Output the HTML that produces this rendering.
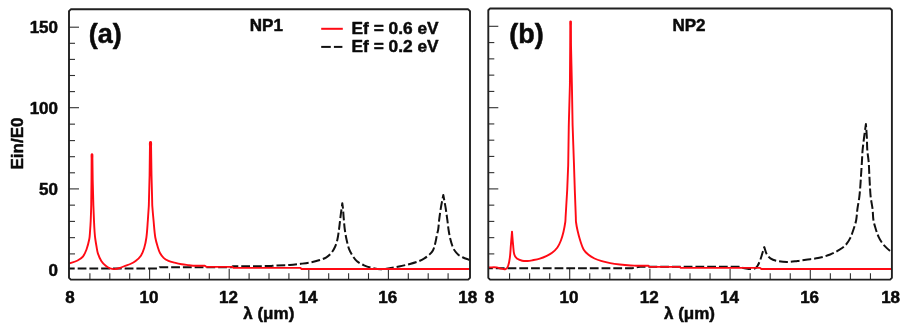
<!DOCTYPE html>
<html><head><meta charset="utf-8"><title>Field enhancement</title>
<style>
html,body{margin:0;padding:0;background:#fff;}
body{width:910px;height:332px;overflow:hidden;position:relative;font-family:"Liberation Sans",sans-serif;}
svg text{font-family:"Liberation Sans",sans-serif;}
</style></head><body>
<svg width="910" height="332" viewBox="0 0 910 332" style="position:absolute;left:0;top:0;filter:blur(0.45px)">
<rect x="0" y="0" width="910" height="332" fill="#fff"/>
<line x1="69.0" y1="253.90" x2="75.0" y2="253.90" stroke="#303030" stroke-width="1.1"/>
<line x1="69.0" y1="237.65" x2="75.0" y2="237.65" stroke="#303030" stroke-width="1.1"/>
<line x1="69.0" y1="221.40" x2="75.0" y2="221.40" stroke="#303030" stroke-width="1.1"/>
<line x1="69.0" y1="205.15" x2="75.0" y2="205.15" stroke="#303030" stroke-width="1.1"/>
<line x1="69.0" y1="188.90" x2="79.0" y2="188.90" stroke="#303030" stroke-width="1.1"/>
<line x1="69.0" y1="172.80" x2="75.0" y2="172.80" stroke="#303030" stroke-width="1.1"/>
<line x1="69.0" y1="156.70" x2="75.0" y2="156.70" stroke="#303030" stroke-width="1.1"/>
<line x1="69.0" y1="140.60" x2="75.0" y2="140.60" stroke="#303030" stroke-width="1.1"/>
<line x1="69.0" y1="124.15" x2="75.0" y2="124.15" stroke="#303030" stroke-width="1.1"/>
<line x1="69.0" y1="107.70" x2="79.0" y2="107.70" stroke="#303030" stroke-width="1.1"/>
<line x1="69.0" y1="91.60" x2="75.0" y2="91.60" stroke="#303030" stroke-width="1.1"/>
<line x1="69.0" y1="75.50" x2="75.0" y2="75.50" stroke="#303030" stroke-width="1.1"/>
<line x1="69.0" y1="59.40" x2="75.0" y2="59.40" stroke="#303030" stroke-width="1.1"/>
<line x1="69.0" y1="43.30" x2="75.0" y2="43.30" stroke="#303030" stroke-width="1.1"/>
<line x1="69.0" y1="27.20" x2="79.0" y2="27.20" stroke="#303030" stroke-width="1.1"/>
<line x1="89.90" y1="279.6" x2="89.90" y2="273.20" stroke="#303030" stroke-width="1.1"/>
<line x1="109.80" y1="279.6" x2="109.80" y2="273.20" stroke="#303030" stroke-width="1.1"/>
<line x1="129.70" y1="279.6" x2="129.70" y2="273.20" stroke="#303030" stroke-width="1.1"/>
<line x1="149.60" y1="279.6" x2="149.60" y2="268.80" stroke="#303030" stroke-width="1.1"/>
<line x1="169.50" y1="279.6" x2="169.50" y2="273.20" stroke="#303030" stroke-width="1.1"/>
<line x1="189.40" y1="279.6" x2="189.40" y2="273.20" stroke="#303030" stroke-width="1.1"/>
<line x1="209.30" y1="279.6" x2="209.30" y2="273.20" stroke="#303030" stroke-width="1.1"/>
<line x1="229.20" y1="279.6" x2="229.20" y2="268.80" stroke="#303030" stroke-width="1.1"/>
<line x1="249.10" y1="279.6" x2="249.10" y2="273.20" stroke="#303030" stroke-width="1.1"/>
<line x1="269.00" y1="279.6" x2="269.00" y2="273.20" stroke="#303030" stroke-width="1.1"/>
<line x1="288.90" y1="279.6" x2="288.90" y2="273.20" stroke="#303030" stroke-width="1.1"/>
<line x1="308.80" y1="279.6" x2="308.80" y2="268.80" stroke="#303030" stroke-width="1.1"/>
<line x1="328.70" y1="279.6" x2="328.70" y2="273.20" stroke="#303030" stroke-width="1.1"/>
<line x1="348.60" y1="279.6" x2="348.60" y2="273.20" stroke="#303030" stroke-width="1.1"/>
<line x1="368.50" y1="279.6" x2="368.50" y2="273.20" stroke="#303030" stroke-width="1.1"/>
<line x1="388.40" y1="279.6" x2="388.40" y2="268.80" stroke="#303030" stroke-width="1.1"/>
<line x1="408.30" y1="279.6" x2="408.30" y2="273.20" stroke="#303030" stroke-width="1.1"/>
<line x1="428.20" y1="279.6" x2="428.20" y2="273.20" stroke="#303030" stroke-width="1.1"/>
<line x1="448.10" y1="279.6" x2="448.10" y2="273.20" stroke="#303030" stroke-width="1.1"/>
<line x1="488.3" y1="253.90" x2="494.3" y2="253.90" stroke="#303030" stroke-width="1.1"/>
<line x1="488.3" y1="237.65" x2="494.3" y2="237.65" stroke="#303030" stroke-width="1.1"/>
<line x1="488.3" y1="221.40" x2="494.3" y2="221.40" stroke="#303030" stroke-width="1.1"/>
<line x1="488.3" y1="205.15" x2="494.3" y2="205.15" stroke="#303030" stroke-width="1.1"/>
<line x1="488.3" y1="188.90" x2="498.3" y2="188.90" stroke="#303030" stroke-width="1.1"/>
<line x1="488.3" y1="172.66" x2="494.3" y2="172.66" stroke="#303030" stroke-width="1.1"/>
<line x1="488.3" y1="156.42" x2="494.3" y2="156.42" stroke="#303030" stroke-width="1.1"/>
<line x1="488.3" y1="140.18" x2="494.3" y2="140.18" stroke="#303030" stroke-width="1.1"/>
<line x1="488.3" y1="123.94" x2="494.3" y2="123.94" stroke="#303030" stroke-width="1.1"/>
<line x1="488.3" y1="107.70" x2="498.3" y2="107.70" stroke="#303030" stroke-width="1.1"/>
<line x1="488.3" y1="91.42" x2="494.3" y2="91.42" stroke="#303030" stroke-width="1.1"/>
<line x1="488.3" y1="75.14" x2="494.3" y2="75.14" stroke="#303030" stroke-width="1.1"/>
<line x1="488.3" y1="58.86" x2="494.3" y2="58.86" stroke="#303030" stroke-width="1.1"/>
<line x1="488.3" y1="42.58" x2="494.3" y2="42.58" stroke="#303030" stroke-width="1.1"/>
<line x1="488.3" y1="26.30" x2="498.3" y2="26.30" stroke="#303030" stroke-width="1.1"/>
<line x1="509.55" y1="279.6" x2="509.55" y2="273.20" stroke="#303030" stroke-width="1.1"/>
<line x1="529.60" y1="279.6" x2="529.60" y2="273.20" stroke="#303030" stroke-width="1.1"/>
<line x1="549.65" y1="279.6" x2="549.65" y2="273.20" stroke="#303030" stroke-width="1.1"/>
<line x1="569.70" y1="279.6" x2="569.70" y2="268.80" stroke="#303030" stroke-width="1.1"/>
<line x1="589.75" y1="279.6" x2="589.75" y2="273.20" stroke="#303030" stroke-width="1.1"/>
<line x1="609.80" y1="279.6" x2="609.80" y2="273.20" stroke="#303030" stroke-width="1.1"/>
<line x1="629.85" y1="279.6" x2="629.85" y2="273.20" stroke="#303030" stroke-width="1.1"/>
<line x1="649.90" y1="279.6" x2="649.90" y2="268.80" stroke="#303030" stroke-width="1.1"/>
<line x1="669.95" y1="279.6" x2="669.95" y2="273.20" stroke="#303030" stroke-width="1.1"/>
<line x1="690.00" y1="279.6" x2="690.00" y2="273.20" stroke="#303030" stroke-width="1.1"/>
<line x1="710.05" y1="279.6" x2="710.05" y2="273.20" stroke="#303030" stroke-width="1.1"/>
<line x1="730.10" y1="279.6" x2="730.10" y2="268.80" stroke="#303030" stroke-width="1.1"/>
<line x1="750.15" y1="279.6" x2="750.15" y2="273.20" stroke="#303030" stroke-width="1.1"/>
<line x1="770.20" y1="279.6" x2="770.20" y2="273.20" stroke="#303030" stroke-width="1.1"/>
<line x1="790.25" y1="279.6" x2="790.25" y2="273.20" stroke="#303030" stroke-width="1.1"/>
<line x1="810.30" y1="279.6" x2="810.30" y2="268.80" stroke="#303030" stroke-width="1.1"/>
<line x1="830.35" y1="279.6" x2="830.35" y2="273.20" stroke="#303030" stroke-width="1.1"/>
<line x1="850.40" y1="279.6" x2="850.40" y2="273.20" stroke="#303030" stroke-width="1.1"/>
<line x1="870.45" y1="279.6" x2="870.45" y2="273.20" stroke="#303030" stroke-width="1.1"/>
<path d="M69.00,268.00 C70.50,268.00 72.00,268.00 73.50,268.00 C100.30,268.00 127.10,268.00 153.90,268.00 C155.40,268.00 156.90,268.00 158.40,268.00 C158.80,267.60 159.20,267.20 159.60,266.80 C161.10,266.80 162.60,266.80 164.10,266.80 C185.07,266.80 206.03,266.80 227.00,266.80 C228.50,266.80 230.00,266.80 231.50,266.80 C231.93,266.43 232.37,266.07 232.80,265.70 C238.53,265.70 244.27,265.73 250.00,265.70 C256.87,265.66 263.74,265.67 270.60,265.50 C271.81,265.47 272.99,265.16 274.20,265.10 C279.43,264.83 284.67,264.85 289.90,264.50 C293.55,264.25 297.17,263.76 300.80,263.30 C304.04,262.89 307.29,262.52 310.50,261.90 C313.33,261.35 316.15,260.68 318.90,259.80 C321.46,258.98 324.09,258.18 326.40,256.80 C328.35,255.64 330.07,254.06 331.50,252.30 C333.04,250.41 334.21,248.23 335.20,246.00 C336.19,243.76 336.87,241.39 337.40,239.00 C338.14,235.71 338.54,232.34 339.00,229.00 C339.58,224.78 339.98,220.53 340.50,216.30 C340.84,213.53 341.23,210.77 341.60,208.00 C341.83,206.23 342.07,204.47 342.30,202.70 C342.53,204.47 342.83,206.23 343.00,208.00 C343.26,210.76 343.36,213.54 343.60,216.30 C343.96,220.54 344.25,224.78 344.80,229.00 C345.25,232.46 345.85,235.90 346.60,239.30 C347.29,242.44 347.97,245.60 349.10,248.60 C349.98,250.93 351.25,253.11 352.60,255.20 C353.89,257.19 355.18,259.27 357.00,260.80 C359.06,262.53 361.56,263.68 364.00,264.80 C366.24,265.83 368.60,266.63 371.00,267.20 C374.19,267.96 377.43,268.67 380.70,268.80 C383.18,268.90 385.65,268.29 388.10,267.90 C392.15,267.26 396.18,266.51 400.20,265.70 C403.45,265.04 406.69,264.35 409.90,263.50 C412.76,262.74 415.64,261.97 418.40,260.90 C420.49,260.09 422.50,259.07 424.40,257.90 C426.14,256.83 427.80,255.59 429.30,254.20 C430.65,252.94 432.06,251.64 432.90,250.00 C434.10,247.66 434.65,245.04 435.30,242.50 C436.02,239.70 436.39,236.82 437.00,234.00 C437.36,232.32 437.95,230.70 438.20,229.00 C438.65,225.99 438.73,222.93 439.10,219.90 C439.63,215.66 440.20,211.42 440.90,207.20 C441.60,202.95 442.50,198.73 443.30,194.50 C444.07,198.73 444.91,202.95 445.60,207.20 C446.28,211.42 446.83,215.66 447.40,219.90 C447.83,223.10 448.11,226.31 448.60,229.50 C449.04,232.35 449.53,235.19 450.20,238.00 C450.80,240.53 451.50,243.05 452.40,245.50 C452.97,247.07 453.66,248.62 454.60,250.00 C455.65,251.54 456.86,253.01 458.30,254.20 C459.73,255.38 461.43,256.20 463.10,257.00 C464.84,257.84 466.69,258.42 468.50,259.10 C468.99,259.29 469.50,259.43 470.00,259.60" fill="none" stroke="#111" stroke-width="2" stroke-dasharray="8.8 2.95" stroke-dashoffset="3.1" stroke-linejoin="round" transform="translate(0,0.5)"/>
<path d="M69.00,263.60 C71.87,262.57 74.88,261.87 77.60,260.50 C79.56,259.51 81.52,258.31 82.90,256.60 C84.57,254.54 85.59,251.99 86.50,249.50 C87.74,246.10 88.59,242.55 89.30,239.00 C89.76,236.70 89.82,234.34 90.00,232.00 C90.28,228.34 90.53,224.67 90.70,221.00 C90.93,216.00 91.06,211.00 91.20,206.00 C91.24,204.50 91.23,203.00 91.25,201.50 C91.32,195.83 91.38,190.17 91.45,184.50 C91.47,183.00 91.49,181.50 91.50,180.00 C91.51,178.50 91.52,177.00 91.53,175.50 C91.56,169.93 91.59,164.37 91.62,158.80 C91.63,157.30 91.41,155.78 91.65,154.30 C91.69,154.07 92.31,154.07 92.35,154.30 C92.60,155.78 92.39,157.30 92.41,158.80 C92.49,164.37 92.56,169.93 92.64,175.50 C92.66,177.00 92.67,178.50 92.70,180.00 C92.73,181.50 92.78,183.00 92.82,184.50 C92.97,190.17 93.13,195.83 93.28,201.50 C93.32,203.00 93.34,204.50 93.40,206.00 C93.58,211.00 93.77,216.00 94.00,221.00 C94.17,224.67 94.34,228.34 94.60,232.00 C94.77,234.34 94.99,236.68 95.30,239.00 C95.66,241.68 96.13,244.34 96.60,247.00 C96.96,249.04 97.14,251.14 97.80,253.10 C98.72,255.83 99.78,258.55 101.30,261.00 C102.45,262.84 104.04,264.40 105.70,265.80 C107.00,266.90 108.50,267.80 110.10,268.40 C111.49,268.92 113.02,269.16 114.50,269.10 C116.30,269.03 118.08,268.54 119.80,268.00 C121.63,267.43 123.31,266.48 125.10,265.80 C126.81,265.15 128.63,264.76 130.30,264.00 C132.15,263.16 134.00,262.25 135.60,261.00 C137.57,259.46 139.52,257.78 140.90,255.70 C142.44,253.37 143.39,250.67 144.20,248.00 C145.23,244.58 145.93,241.04 146.40,237.50 C147.13,232.03 147.38,226.50 147.80,221.00 C148.18,216.00 148.51,211.00 148.80,206.00 C148.89,204.50 148.88,203.00 148.92,201.50 C149.11,194.17 149.29,186.83 149.48,179.50 C149.52,178.00 149.57,176.50 149.60,175.00 C149.63,173.50 149.64,172.00 149.65,170.50 C149.75,162.53 149.85,154.57 149.95,146.60 C149.96,145.10 149.66,143.56 150.00,142.10 C150.08,141.78 150.92,141.78 151.00,142.10 C151.35,143.56 151.05,145.10 151.07,146.60 C151.19,154.57 151.31,162.53 151.43,170.50 C151.45,172.00 151.47,173.50 151.50,175.00 C151.53,176.50 151.58,178.00 151.62,179.50 C151.81,186.83 151.99,194.17 152.18,201.50 C152.22,203.00 152.19,204.50 152.30,206.00 C152.66,211.01 153.12,216.00 153.60,221.00 C154.12,226.50 154.39,232.05 155.30,237.50 C155.90,241.07 157.05,244.53 158.10,248.00 C158.62,249.71 159.13,251.44 160.00,253.00 C160.98,254.77 162.12,256.52 163.60,257.90 C165.00,259.20 166.75,260.13 168.50,260.90 C170.41,261.74 172.48,262.18 174.50,262.70 C176.91,263.32 179.35,263.88 181.80,264.30 C184.18,264.71 186.60,264.90 189.00,265.20 C190.33,265.37 191.67,265.53 193.00,265.70 C196.93,265.70 200.87,265.70 204.80,265.70 C205.33,266.10 205.87,266.50 206.40,266.90 C207.90,266.90 209.40,266.90 210.90,266.90 C216.57,266.90 222.23,266.90 227.90,266.90 C229.40,266.90 230.90,266.90 232.40,266.90 C232.80,267.23 233.20,267.57 233.60,267.90 C235.10,267.90 236.60,267.90 238.10,267.90 C257.37,267.90 276.63,267.90 295.90,267.90 C297.40,267.90 298.90,267.90 300.40,267.90 C300.80,268.27 301.20,268.63 301.60,269.00 C303.10,269.00 304.60,269.00 306.10,269.00 C359.23,269.00 412.37,269.00 465.50,269.00 C467.00,269.00 468.50,269.00 470.00,269.00" fill="none" stroke="#ff0a14" stroke-width="1.9" stroke-linejoin="round"/>
<path d="M489.00,267.70 C490.50,267.70 492.00,267.70 493.50,267.70 C538.17,267.70 582.83,267.70 627.50,267.70 C629.00,267.70 630.50,267.70 632.00,267.70 C634.67,267.23 637.33,266.77 640.00,266.30 C641.50,266.30 643.00,266.30 644.50,266.30 C674.50,266.30 704.50,266.30 734.50,266.30 C736.00,266.30 737.50,266.30 739.00,266.30 C741.33,266.87 743.64,267.57 746.00,268.00 C747.81,268.33 749.66,268.60 751.50,268.60 C752.68,268.60 753.97,268.58 755.00,268.00 C756.11,267.38 756.93,266.28 757.60,265.20 C758.72,263.38 759.54,261.39 760.30,259.40 C761.21,256.98 761.83,254.47 762.60,252.00 C763.16,250.20 763.73,248.40 764.30,246.60 C765.10,248.93 765.53,251.43 766.70,253.60 C767.60,255.26 768.84,256.83 770.40,257.90 C772.17,259.12 774.29,259.85 776.40,260.30 C779.84,261.03 783.38,261.38 786.90,261.40 C790.45,261.42 793.97,260.81 797.50,260.40 C800.34,260.07 803.16,259.59 806.00,259.20 C810.03,258.65 814.12,258.45 818.10,257.60 C822.21,256.72 826.27,255.51 830.20,254.00 C833.16,252.86 835.98,251.34 838.70,249.70 C841.03,248.30 843.43,246.87 845.30,244.90 C847.32,242.78 848.88,240.22 850.20,237.60 C851.74,234.55 852.72,231.24 853.80,228.00 C854.73,225.21 855.66,222.39 856.20,219.50 C856.86,215.94 856.91,212.29 857.40,208.70 C857.95,204.65 858.78,200.65 859.30,196.60 C859.75,193.08 860.02,189.54 860.30,186.00 C860.62,181.90 860.83,177.80 861.10,173.70 C861.36,169.67 861.65,165.63 861.90,161.60 C862.15,157.57 862.24,153.52 862.60,149.50 C863.01,144.99 863.63,140.50 864.20,136.00 C864.73,131.86 865.33,127.73 865.90,123.60 C866.20,127.73 866.58,131.86 866.80,136.00 C867.04,140.50 866.97,145.01 867.30,149.50 C867.60,153.55 868.37,157.55 868.70,161.60 C869.03,165.62 869.09,169.67 869.30,173.70 C869.53,178.13 869.73,182.57 870.00,187.00 C870.20,190.20 870.32,193.41 870.70,196.60 C871.19,200.65 872.12,204.65 872.60,208.70 C873.02,212.29 872.85,215.93 873.40,219.50 C873.85,222.39 874.74,225.20 875.60,228.00 C876.47,230.84 877.37,233.69 878.60,236.40 C879.58,238.55 880.80,240.60 882.20,242.50 C883.64,244.45 885.37,246.19 887.10,247.90 C888.41,249.20 889.90,250.30 891.30,251.50" fill="none" stroke="#111" stroke-width="2" stroke-dasharray="8.8 2.95" stroke-dashoffset="4.95" stroke-linejoin="round" transform="translate(0,0.5)"/>
<path d="M488.80,267.40 C491.43,267.40 494.08,267.14 496.70,267.40 C498.21,267.55 499.61,268.31 501.10,268.60 C502.55,268.88 504.12,269.61 505.50,269.10 C506.76,268.63 507.63,267.26 508.10,266.00 C509.14,263.19 509.51,260.17 509.90,257.20 C510.44,253.12 510.56,249.00 510.90,244.90 C511.26,240.50 511.63,236.10 512.00,231.70 C512.37,236.10 512.66,240.51 513.10,244.90 C513.42,248.11 513.44,251.39 514.30,254.50 C514.73,256.06 515.63,257.60 516.90,258.60 C518.39,259.77 520.35,260.28 522.20,260.70 C523.93,261.09 525.73,261.08 527.50,261.00 C529.25,260.92 530.98,260.54 532.70,260.20 C535.08,259.74 537.48,259.32 539.80,258.60 C542.20,257.85 544.53,256.87 546.80,255.80 C548.64,254.93 550.50,254.05 552.10,252.80 C554.07,251.26 555.95,249.53 557.40,247.50 C558.92,245.38 559.96,242.93 560.90,240.50 C562.00,237.65 562.79,234.68 563.50,231.70 C564.26,228.50 564.83,225.25 565.30,222.00 C565.52,220.52 565.48,219.01 565.57,217.51 C566.02,209.84 566.48,202.16 566.93,194.49 C567.02,192.99 567.13,191.50 567.20,190.00 C567.27,188.50 567.32,187.00 567.38,185.50 C567.59,180.17 567.81,174.83 568.02,169.50 C568.08,168.00 568.16,166.50 568.20,165.00 C568.24,163.50 568.24,162.00 568.27,160.50 C568.42,150.17 568.58,139.83 568.73,129.50 C568.76,128.00 568.77,126.50 568.80,125.00 C568.83,123.50 568.88,122.00 568.92,120.50 C569.21,110.17 569.49,99.83 569.78,89.50 C569.82,88.00 569.87,86.50 569.90,85.00 C569.93,83.50 569.92,82.00 569.93,80.50 C570.01,70.17 570.09,59.83 570.17,49.50 C570.18,48.00 570.19,46.50 570.20,45.00 C570.21,43.50 570.21,42.00 570.22,40.50 C570.24,35.67 570.26,30.83 570.28,26.00 C570.29,24.50 570.10,22.99 570.30,21.50 C570.33,21.30 570.87,21.30 570.90,21.50 C571.10,22.99 570.91,24.50 570.92,26.00 C570.94,30.83 570.96,35.67 570.98,40.50 C570.99,42.00 570.98,43.50 571.00,45.00 C571.02,46.50 571.07,48.00 571.10,49.50 C571.33,59.83 571.57,70.17 571.80,80.50 C571.83,82.00 571.87,83.50 571.90,85.00 C571.93,86.50 571.95,88.00 571.98,89.50 C572.16,99.83 572.34,110.17 572.52,120.50 C572.55,122.00 572.56,123.50 572.60,125.00 C572.64,126.50 572.70,128.00 572.76,129.50 C573.12,139.83 573.48,150.17 573.84,160.50 C573.90,162.00 573.95,163.50 574.00,165.00 C574.05,166.50 574.10,168.00 574.14,169.50 C574.31,174.83 574.49,180.17 574.66,185.50 C574.70,187.00 574.75,188.50 574.80,190.00 C574.85,191.50 574.91,193.00 574.97,194.50 C575.26,202.17 575.54,209.83 575.83,217.50 C575.89,219.00 575.80,220.51 576.00,222.00 C576.39,224.96 576.94,227.89 577.60,230.80 C578.34,234.06 579.17,237.31 580.20,240.50 C581.17,243.52 582.01,246.65 583.60,249.40 C584.82,251.50 586.63,253.24 588.50,254.80 C590.30,256.31 592.38,257.49 594.50,258.50 C596.83,259.61 599.32,260.37 601.80,261.10 C604.56,261.91 607.37,262.57 610.20,263.10 C613.41,263.70 616.66,264.12 619.90,264.50 C623.52,264.92 627.16,265.23 630.80,265.50 C632.53,265.63 634.27,265.63 636.00,265.70 C640.13,265.70 644.27,265.70 648.40,265.70 C648.80,266.10 649.20,266.50 649.60,266.90 C651.10,266.90 652.60,266.90 654.10,266.90 C661.17,266.90 668.23,266.90 675.30,266.90 C676.80,266.90 678.30,266.90 679.80,266.90 C680.20,267.23 680.60,267.57 681.00,267.90 C682.50,267.90 684.00,267.90 685.50,267.90 C708.87,267.90 732.23,267.90 755.60,267.90 C757.10,267.90 758.60,267.90 760.10,267.90 C760.53,268.27 760.97,268.63 761.40,269.00 C762.90,269.00 764.40,269.00 765.90,269.00 C806.10,269.00 846.30,269.00 886.50,269.00 C888.00,269.00 889.50,269.00 891.00,269.00" fill="none" stroke="#ff0a14" stroke-width="1.9" stroke-linejoin="round"/>
<path d="M70.8,9.3 L468.2,9.3 L470.0,11.100000000000001 L470.0,277.8 L468.2,279.6 L70.8,279.6 L69.0,277.8 L69.0,11.100000000000001 Z" fill="none" stroke="#202020" stroke-width="1.9" stroke-linejoin="round"/>
<path d="M490.1,8.45 L890.1,8.45 L891.9,10.25 L891.9,277.8 L890.1,279.6 L490.1,279.6 L488.3,277.8 L488.3,10.25 Z" fill="none" stroke="#202020" stroke-width="1.9" stroke-linejoin="round"/>
<line x1="321.2" y1="28.8" x2="342.8" y2="28.8" stroke="#ff0a14" stroke-width="2"/>
<line x1="321.2" y1="46.9" x2="330.8" y2="46.9" stroke="#111" stroke-width="2"/>
<line x1="333.9" y1="46.9" x2="342.4" y2="46.9" stroke="#111" stroke-width="2"/>
<text x="58.0" y="276.1" font-size="17" text-anchor="end" font-family="Liberation Sans, sans-serif" font-weight="bold" fill="#0a0a0a" stroke="#0a0a0a" stroke-width="0.5" stroke-linejoin="round" >0</text>
<text x="58.0" y="194.8" font-size="17" text-anchor="end" font-family="Liberation Sans, sans-serif" font-weight="bold" fill="#0a0a0a" stroke="#0a0a0a" stroke-width="0.5" stroke-linejoin="round" >50</text>
<text x="58.0" y="113.6" font-size="17" text-anchor="end" font-family="Liberation Sans, sans-serif" font-weight="bold" fill="#0a0a0a" stroke="#0a0a0a" stroke-width="0.5" stroke-linejoin="round" >100</text>
<text x="58.0" y="33.1" font-size="17" text-anchor="end" font-family="Liberation Sans, sans-serif" font-weight="bold" fill="#0a0a0a" stroke="#0a0a0a" stroke-width="0.5" stroke-linejoin="round" >150</text>
<text x="70.0" y="302.6" font-size="17" text-anchor="middle" font-family="Liberation Sans, sans-serif" font-weight="bold" fill="#0a0a0a" stroke="#0a0a0a" stroke-width="0.5" stroke-linejoin="round" >8</text>
<text x="489.5" y="302.6" font-size="17" text-anchor="middle" font-family="Liberation Sans, sans-serif" font-weight="bold" fill="#0a0a0a" stroke="#0a0a0a" stroke-width="0.5" stroke-linejoin="round" >8</text>
<text x="148.9" y="302.6" font-size="17" text-anchor="middle" font-family="Liberation Sans, sans-serif" font-weight="bold" fill="#0a0a0a" stroke="#0a0a0a" stroke-width="0.5" stroke-linejoin="round" >10</text>
<text x="569.0" y="302.6" font-size="17" text-anchor="middle" font-family="Liberation Sans, sans-serif" font-weight="bold" fill="#0a0a0a" stroke="#0a0a0a" stroke-width="0.5" stroke-linejoin="round" >10</text>
<text x="228.5" y="302.6" font-size="17" text-anchor="middle" font-family="Liberation Sans, sans-serif" font-weight="bold" fill="#0a0a0a" stroke="#0a0a0a" stroke-width="0.5" stroke-linejoin="round" >12</text>
<text x="649.2" y="302.6" font-size="17" text-anchor="middle" font-family="Liberation Sans, sans-serif" font-weight="bold" fill="#0a0a0a" stroke="#0a0a0a" stroke-width="0.5" stroke-linejoin="round" >12</text>
<text x="308.1" y="302.6" font-size="17" text-anchor="middle" font-family="Liberation Sans, sans-serif" font-weight="bold" fill="#0a0a0a" stroke="#0a0a0a" stroke-width="0.5" stroke-linejoin="round" >14</text>
<text x="729.4" y="302.6" font-size="17" text-anchor="middle" font-family="Liberation Sans, sans-serif" font-weight="bold" fill="#0a0a0a" stroke="#0a0a0a" stroke-width="0.5" stroke-linejoin="round" >14</text>
<text x="387.7" y="302.6" font-size="17" text-anchor="middle" font-family="Liberation Sans, sans-serif" font-weight="bold" fill="#0a0a0a" stroke="#0a0a0a" stroke-width="0.5" stroke-linejoin="round" >16</text>
<text x="809.6" y="302.6" font-size="17" text-anchor="middle" font-family="Liberation Sans, sans-serif" font-weight="bold" fill="#0a0a0a" stroke="#0a0a0a" stroke-width="0.5" stroke-linejoin="round" >16</text>
<text x="467.7" y="302.6" font-size="17" text-anchor="middle" font-family="Liberation Sans, sans-serif" font-weight="bold" fill="#0a0a0a" stroke="#0a0a0a" stroke-width="0.5" stroke-linejoin="round" >18</text>
<text x="890.6" y="302.6" font-size="17" text-anchor="middle" font-family="Liberation Sans, sans-serif" font-weight="bold" fill="#0a0a0a" stroke="#0a0a0a" stroke-width="0.5" stroke-linejoin="round" >18</text>
<text x="268.8" y="318.9" font-size="17" text-anchor="middle" font-family="Liberation Sans, sans-serif" font-weight="bold" fill="#0a0a0a" stroke="#0a0a0a" stroke-width="0.5" stroke-linejoin="round" >λ (μm)</text>
<text x="689.5" y="318.9" font-size="17" text-anchor="middle" font-family="Liberation Sans, sans-serif" font-weight="bold" fill="#0a0a0a" stroke="#0a0a0a" stroke-width="0.5" stroke-linejoin="round" >λ (μm)</text>
<text x="0" y="0" font-size="17" text-anchor="middle" font-family="Liberation Sans, sans-serif" font-weight="bold" fill="#0a0a0a" stroke="#0a0a0a" stroke-width="0.5" stroke-linejoin="round" transform="translate(22.9,143.5) rotate(-90)">Ein/E0</text>
<text x="88.7" y="43.1" font-size="27" text-anchor="start" font-family="Liberation Sans, sans-serif" font-weight="bold" fill="#0a0a0a" stroke="#0a0a0a" stroke-width="0.5" stroke-linejoin="round" >(a)</text>
<text x="509.3" y="42.5" font-size="27" text-anchor="start" font-family="Liberation Sans, sans-serif" font-weight="bold" fill="#0a0a0a" stroke="#0a0a0a" stroke-width="0.5" stroke-linejoin="round" >(b)</text>
<text x="249.8" y="31.1" font-size="17" text-anchor="start" font-family="Liberation Sans, sans-serif" font-weight="bold" fill="#0a0a0a" stroke="#0a0a0a" stroke-width="0.5" stroke-linejoin="round" >NP1</text>
<text x="672.4" y="31.2" font-size="17" text-anchor="start" font-family="Liberation Sans, sans-serif" font-weight="bold" fill="#0a0a0a" stroke="#0a0a0a" stroke-width="0.5" stroke-linejoin="round" >NP2</text>
<text x="351.6" y="33.5" font-size="17.3" text-anchor="start" font-family="Liberation Sans, sans-serif" font-weight="bold" fill="#0a0a0a" stroke="#0a0a0a" stroke-width="0.5" stroke-linejoin="round" >Ef = 0.6 eV</text>
<text x="351.6" y="51.6" font-size="17.3" text-anchor="start" font-family="Liberation Sans, sans-serif" font-weight="bold" fill="#0a0a0a" stroke="#0a0a0a" stroke-width="0.5" stroke-linejoin="round" >Ef = 0.2 eV</text>
</svg>
</body></html>
